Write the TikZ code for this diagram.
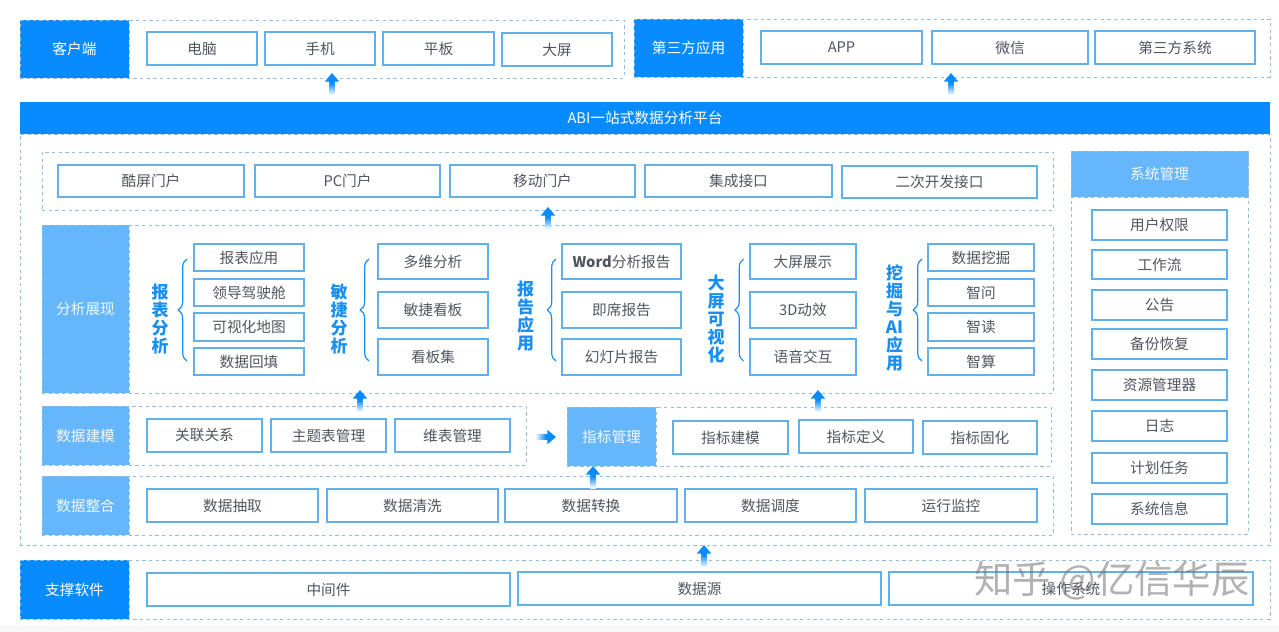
\documentclass[tikz,border=0pt]{standalone}
\usepackage{fontspec}
\setmainfont{Noto Sans CJK SC}
\usetikzlibrary{arrows.meta,calc,decorations.pathreplacing}
\definecolor{deep}{HTML}{078BFF}
\definecolor{soft}{HTML}{66B6FB}
\definecolor{edgec}{HTML}{62B0EA}
\definecolor{dashc}{HTML}{8FBFE0}
\definecolor{ink}{HTML}{50555F}
\definecolor{vlab}{HTML}{1A8FF2}
\tikzset{
  boxn/.style={draw=edgec,line width=0.9pt,fill=white,inner sep=0pt,outer sep=0pt,text=ink,font=\fontsize{11}{12}\selectfont},
  paneln/.style={draw=dashc,line width=0.75pt,dash pattern=on 2.6pt off 2.4pt,inner sep=0pt,outer sep=0pt},
  deephead/.style={paneln,fill=deep,text=white,font=\fontsize{11}{12}\selectfont},
  softhead/.style={paneln,fill=soft,text=white!92!soft,font=\fontsize{11}{12}\selectfont},
  barn/.style={fill=deep,inner sep=0pt,outer sep=0pt,text=white,font=\fontsize{11}{12}\selectfont},
  vtext/.style={align=center,inner sep=0pt,text=vlab,font=\bfseries\fontsize{12.75}{13.6}\selectfont},
  bracen/.style={draw=vlab,line width=0.9pt,decorate,decoration={brace,amplitude=6.5pt}},
  arrowhead/.style={draw=deep,line width=4pt,-{Triangle[width=10.5pt,length=6.5pt]}},
}
\newcommand{\rbox}[7][boxn]{%
  \pgfmathsetlengthmacro{\rw}{(#5-#3)*0.75pt}%
  \pgfmathsetlengthmacro{\rh}{(#6-#4)*0.75pt}%
  \node[#1,minimum width=\rw,minimum height=\rh] (#2) at ({(#3+#5)/2},{(#4+#6)/2}) {#7};}
\newcommand{\flowup}[3]{%
  \coordinate (#1s) at (#2,#3);\coordinate (#1e) at (#2,{#3-22});
  \coordinate (#1m) at (#2,{#3-12});
  \shade[top color=deep,bottom color=white] ($(#1s)+(-2.67,0)$) rectangle ($(#1m)+(2.67,0)$);
  \draw[arrowhead] (#1m) -- (#1e);}
\begin{document}
\begin{tikzpicture}[x=0.75pt,y=-0.75pt]
\useasboundingbox (0,0) rectangle (1279,632);
\fill[white] (0,0) rectangle (1279,632);
\fill[black!3] (0,626) rectangle (1279,632);
% --- top
\rbox[paneln]{clientp}{20}{20}{624}{78}{}
\rbox[deephead]{clienth}{20}{20}{129}{78}{客户端}
\rbox{c1}{147}{32}{257}{65}{电脑}
\rbox{c2}{265}{32}{375}{65}{手机}
\rbox{c3}{383}{32}{494}{65}{平板}
\rbox{c4}{502}{33}{612}{66}{大屏}
\rbox[paneln]{thirdp}{634}{19}{1270}{77}{}
\rbox[deephead]{thirdh}{634}{19}{743}{77}{第三方应用}
\rbox{t1}{761}{31}{922}{64}{APP}
\rbox{t2}{932}{31}{1088}{64}{微信}
\rbox{t3}{1095}{31}{1255}{64}{第三方系统}
% --- platform
\rbox[paneln]{platp}{20}{134}{1270}{545}{}
\rbox[barn]{platbar}{20}{102}{1270}{134}{ABI一站式数据分析平台}
% --- portals
\rbox[paneln]{portalp}{42}{152}{1053}{210}{}
\rbox{p1}{58}{165}{244}{197}{酷屏门户}
\rbox{p2}{255}{165}{440}{197}{PC门户}
\rbox{p3}{450}{165}{635}{197}{移动门户}
\rbox{p4}{645}{165}{832}{197}{集成接口}
\rbox{p5}{842}{166}{1037}{198}{二次开发接口}
% --- system management
\rbox[paneln]{sysp}{1071}{151}{1248}{534}{}
\rbox[softhead]{sysh}{1071}{151}{1248}{197}{系统管理}
\rbox{s1}{1092}{210}{1227}{240}{用户权限}
\rbox{s2}{1092}{250}{1227}{279}{工作流}
\rbox{s3}{1092}{290}{1227}{320}{公告}
\rbox{s4}{1092}{329}{1227}{359}{备份恢复}
\rbox{s5}{1092}{370}{1227}{400}{资源管理器}
\rbox{s6}{1092}{411}{1227}{441}{日志}
\rbox{s7}{1092}{453}{1227}{483}{计划任务}
\rbox{s8}{1092}{494}{1227}{524}{系统信息}
% --- analysis
\rbox[paneln]{anap}{42}{225}{1053}{393}{}
\rbox[softhead]{anah}{42}{225}{129}{393}{分析展现}
\rbox{a1}{194}{244}{304}{271}{报表应用}
\rbox{a2}{194}{279}{304}{306}{领导驾驶舱}
\rbox{a3}{194}{313}{304}{341}{可视化地图}
\rbox{a4}{194}{348}{304}{375}{数据回填}
\rbox{b1}{378}{244}{488}{279}{多维分析}
\rbox{b2}{378}{292}{488}{328}{敏捷看板}
\rbox{b3}{378}{339}{488}{375}{看板集}
\rbox{d1}{562}{244}{681}{279}{\bfseries Word\mdseries 分析报告}
\rbox{d2}{562}{292}{681}{328}{即席报告}
\rbox{d3}{562}{339}{681}{375}{幻灯片报告}
\rbox{e1}{750}{244}{856}{279}{大屏展示}
\rbox{e2}{750}{292}{856}{328}{3D动效}
\rbox{e3}{750}{339}{856}{375}{语音交互}
\rbox{f1}{928}{244}{1034}{271}{数据挖掘}
\rbox{f2}{928}{279}{1034}{306}{智问}
\rbox{f3}{928}{313}{1034}{341}{智读}
\rbox{f4}{928}{348}{1034}{375}{智算}
\node[vtext] (va) at (160,319) {报\\表\\分\\析};
\node[vtext] (vb) at (339,319) {敏\\捷\\分\\析};
\node[vtext] (vd) at (525.5,316) {报\\告\\应\\用};
\node[vtext] (ve) at (716,319) {大\\屏\\可\\视\\化};
\node[vtext] (vf) at (894.5,318) {挖\\掘\\与\\AI\\应\\用};
\foreach \nm/\xx in {ba/187,bb/369,bd/556,be/743.6,bf/922}{
  \coordinate (\nm s) at (\xx,361);
  \coordinate (\nm e) at (\xx,259);
  \draw[bracen] (\nm s) -- (\nm e);
}
% --- modelling
\rbox[paneln]{modp}{42}{406}{526}{465}{}
\rbox[softhead]{modh}{42}{406}{129}{465}{数据建模}
\rbox{m1}{147}{419}{262}{452}{关联关系}
\rbox{m2}{271}{419}{386}{452}{主题表管理}
\rbox{m3}{395}{419}{510}{452}{维表管理}
\rbox[paneln]{metp}{567}{407}{1051}{466}{}
\rbox[softhead]{meth}{567}{407}{656}{466}{指标管理}
\rbox{n1}{673}{421}{788}{454}{指标建模}
\rbox{n2}{799}{420}{913}{453}{指标定义}
\rbox{n3}{923}{421}{1037}{454}{指标固化}
% --- integration
\rbox[paneln]{intp}{42}{476}{1053}{535}{}
\rbox[softhead]{inth}{42}{476}{129}{535}{数据整合}
\rbox{i1}{147}{489}{318}{522}{数据抽取}
\rbox{i2}{327}{489}{498}{522}{数据清洗}
\rbox{i3}{505}{489}{677}{522}{数据转换}
\rbox{i4}{685}{489}{856}{522}{数据调度}
\rbox{i5}{865}{489}{1037}{522}{运行监控}
% --- support
\rbox[paneln]{supp}{20}{560}{1270}{619}{}
\rbox[deephead]{suph}{20}{560}{129}{619}{支撑软件}
\rbox{u1}{147}{573}{510}{606}{中间件}
\rbox{u2}{518}{572}{881}{605}{数据源}
\rbox{u3}{889}{572}{1253}{605}{操作系统}
% --- flow arrows
\flowup{ar1}{332}{95}
\flowup{ar2}{951}{95}
\flowup{ar3}{548}{229}
\flowup{ar4}{360}{412}
\flowup{ar5}{818}{412}
\flowup{ar6}{593}{488}
\flowup{ar7}{704}{567}
\coordinate (ar8s) at (535,437);
\coordinate (ar8m) at (546,437);
\coordinate (ar8e) at (556,437);
\shade[left color=white,right color=deep] ($(ar8s)+(0,-2.67)$) rectangle ($(ar8m)+(0,2.67)$);
\draw[arrowhead] (ar8m) -- (ar8e);
% --- watermark
\node[inner sep=0pt,text=black!55,opacity=.55,font=\fontsize{28.8}{32}\selectfont] (wm) at (1112,581) {知乎 @亿信华辰};
\end{tikzpicture}
\end{document}
